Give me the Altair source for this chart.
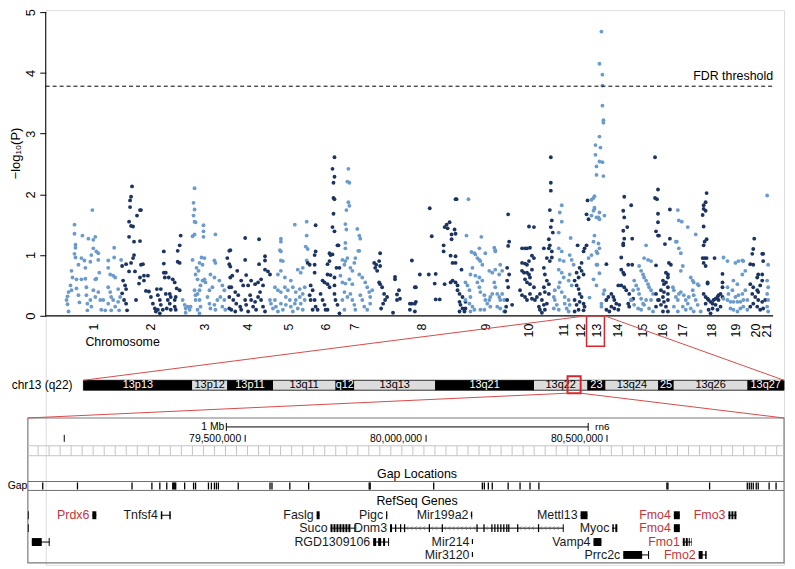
import altair as alt
import pandas as pd

FONT = "Liberation Sans"
LIGHT = "#6b9bcc"
DARK = "#1c3461"
RED = "#d9262c"
GENE_RED_COL = "#c8323a"

# ---------------- Manhattan data: (cumulative position, -log10 P) ----------------
CHR1 = [(47,1.74),(29,1.50),(29,1.35),(37,1.32),(43,1.27),(48,1.25),(50,1.30),(30,1.17),(30,1.12),(48,1.11),(51,1.06),(53,1.03),(69,1.12),(29,1.02),(30,0.96),(36,0.95),(39,0.91),(46,1.0),(45,0.89),(53,0.92),(63,0.91),(69,0.96),(40,0.79),(33,0.84),(26,0.74),(63,0.79),(76,0.92),(27,0.63),(31,0.6),(36,0.6),(40,0.61),(50,0.6),(51,0.61),(54,0.71),(65,0.68),(68,0.66),(70,0.63),(25,0.5),(26,0.42),(23,0.39),(22,0.32),(21,0.26),(22,0.19),(23,0.07),(31,0.45),(33,0.34),(34,0.22),(41,0.47),(41,0.34),(42,0.2),(42,0.09),(53,0.39),(55,0.26),(58,0.26),(56,0.1),(60,0.09),(63,0.47),(65,0.39),(66,0.31),(68,0.26),(70,0.15),(63,0.2),(66,0.09),(73,0.44),(75,0.31),(73,0.23),(74,0.09),(48,0.42),(50,0.31),(45,0.26),(46,0.15)]
CHR2 = [(87,2.13),(86,1.96),(85,1.9),(85,1.79),(95,1.74),(96,1.74),(92,1.65),(84,1.55),(86,1.48),(88,1.47),(84,1.3),(89,1.22),(95,1.23),(89,1.0),(88,0.95),(96,0.84),(98,0.85),(86,0.87),(81,0.85),(77,0.82),(90,0.73),(84,0.73),(95,0.63),(99,0.58),(103,0.66),(94,0.53),(99,0.66),(78,0.58),(80,0.5),(81,0.44),(77,0.37),(79,0.26),(81,0.2),(82,0.09),(91,0.26),(101,0.41),(104,0.4),(106,0.31),(108,0.2),(110,0.12),(111,0.07),(113,0.34),(115,0.26),(116,0.18),(113,0.1),(118,0.1),(115,0.04),(119,1.06),(119,0.86),(119,0.71),(121,0.71),(120,0.63),(124,0.63),(112,0.44),(116,0.44),(121,0.36),(125,0.36),(126,0.31),(130,0.26),(131,0.31),(123,0.26),(125,0.2),(122,0.12),(126,0.1),(130,0.15),(131,0.1),(133,1.07),(135,1.16),(136,1.32),(133,0.89),(135,0.87),(128,0.6),(130,0.55),(132,0.45),(135,0.42)]
CHR3 = [(150,2.1),(149,1.86),(150,1.75),(149,1.65),(150,1.55),(151,1.54),(159,1.49),(159,1.39),(159,1.3),(150,1.34),(148,1.31),(171,1.34),(157,0.96),(160,0.95),(148,0.92),(155,0.87),(158,0.84),(152,0.79),(154,0.74),(170,0.91),(171,0.87),(151,0.68),(153,0.6),(158,0.58),(160,0.6),(161,0.55),(156,0.5),(155,0.42),(153,0.36),(151,0.26),(166,0.68),(170,0.63),(168,0.47),(165,0.42),(163,0.31),(175,0.58),(178,0.5),(180,0.42),(176,0.31),(173,0.26),(138,0.26),(140,0.18),(141,0.12),(143,0.15),(145,0.1),(141,0.05),(146,0.15),(150,0.42),(151,0.34),(155,0.26),(156,0.15),(153,0.1),(155,0.04),(165,0.2),(166,0.12),(170,0.18),(171,0.1),(180,0.26),(178,0.15),(181,0.1)]
CHR4 = [(185,1.07),(183,0.95),(185,0.85),(186,0.63),(185,0.47),(185,0.31),(185,0.12),(186,1.08),(186,0.81),(188,0.66),(201,1.28),(215,1.26),(201,0.92),(193,0.74),(215,0.85),(221,0.98),(221,0.91),(221,0.76),(224,0.73),(226,0.68),(202,0.67),(197,0.58),(199,0.5),(204,0.5),(207,0.58),(211,0.52),(214,0.55),(217,0.6),(219,0.5),(187,0.47),(191,0.39),(194,0.34),(189,0.26),(192,0.2),(196,0.15),(187,0.1),(197,0.1),(201,0.26),(202,0.18),(206,0.34),(207,0.26),(209,0.15),(211,0.23),(212,0.1),(214,0.31),(216,0.39),(217,0.26),(219,0.15),(221,0.07),(204,0.07),(191,0.07)]
CHR5 = [(263,1.55),(251,1.5),(263,1.32),(237,1.27),(237,1.22),(236,1.08),(237,1.06),(237,0.91),(239,0.9),(262,1.14),(264,1.1),(263,0.91),(234,0.68),(237,0.74),(241,0.63),(254,0.76),(257,0.71),(259,0.79),(247,0.58),(249,0.47),(252,0.39),(256,0.44),(259,0.36),(261,0.47),(231,0.47),(234,0.42),(237,0.39),(241,0.47),(242,0.31),(244,0.42),(226,0.26),(227,0.2),(229,0.12),(231,0.26),(232,0.15),(234,0.07),(237,0.2),(239,0.1),(242,0.18),(246,0.26),(247,0.15),(249,0.07),(251,0.2),(252,0.26),(254,0.12),(256,0.31),(257,0.2),(259,0.1),(261,0.26)]
CHR6 = [(291,2.61),(289,2.42),(291,2.29),(290,2.19),(290,1.94),(291,1.92),(290,1.68),(289,1.46),(291,1.39),(294,1.16),(295,1.16),(272,1.49),(272,1.06),(271,1.0),(264,0.87),(266,0.84),(271,0.84),(286,1.03),(287,1.0),(289,1.01),(286,0.9),(284,0.85),(271,0.71),(293,0.79),(296,0.79),(284,0.68),(287,0.67),(291,0.63),(279,0.58),(281,0.55),(284,0.52),(286,0.47),(267,0.5),(269,0.42),(266,0.34),(267,0.26),(271,0.26),(272,0.15),(269,0.1),(274,0.1),(277,0.36),(279,0.26),(281,0.18),(282,0.1),(284,0.1),(291,0.5),(291,0.36),(292,0.26),(294,0.18),(296,0.04)]
CHR7 = [(305,2.42),(304,2.21),(306,2.19),(305,1.87),(306,1.81),(303,1.74),(302,1.51),(303,1.42),(302,1.2),(302,1.11),(314,1.43),(316,1.32),(317,1.27),(315,1.07),(316,1.07),(312,0.95),(311,0.87),(304,0.95),(302,0.9),(299,0.92),(301,0.84),(307,0.79),(309,0.74),(297,0.66),(299,0.55),(302,0.53),(306,0.6),(309,0.52),(316,0.68),(319,0.63),(322,0.55),(324,0.47),(326,0.39),(327,0.31),(329,0.42),(299,0.26),(301,0.1),(309,0.26),(311,0.18),(312,0.1),(317,0.34),(319,0.26),(321,0.15),(324,0.1),(327,0.2),(301,0.39),(304,0.31),(307,0.36)]
CHR8 = [(337,1.03),(331,0.87),(333,0.84),(336,0.9),(337,0.82),(332,0.79),(334,0.74),(336,0.55),(337,0.52),(339,0.47),(341,0.36),(342,0.26),(344,0.31),(340,0.2),(338,0.12),(352,0.64),(352,0.6),(356,0.42),(354,0.35),(354,0.26),(357,0.28),(350,0.05),(369,0.91),(367,0.2),(369,0.2),(367,0.1),(372,0.47),(373,0.47),(373,0.23),(372,0.2),(372,0.07),(377,0.68),(386,0.68),(393,0.69),(387,1.77),(389,1.31),(392,0.53),(393,0.27),(397,0.27),(401,1.16),(401,1.06),(402,1.46),(404,1.5),(407,1.54),(405,1.44),(409,1.34),(412,1.42),(413,1.35),(409,1.26),(413,1.92),(414,1.92),(408,0.99),(413,0.98),(410,0.87),(413,0.87),(402,0.52),(408,0.55),(410,0.58),(413,0.55),(415,0.5),(419,0.76),(415,0.42),(417,0.36),(420,0.31),(417,0.23),(418,0.18),(420,0.12),(417,0.07),(422,0.07),(423,0.12),(423,0.23)]
CHR9 = [(426,1.92),(424,1.32),(439,1.3),(429,1.05),(432,1.03),(433,1.01),(437,1.11),(452,1.12),(453,1.08),(453,1.06),(443,1.03),(435,0.95),(437,0.92),(440,0.84),(438,0.9),(430,0.79),(428,0.68),(433,0.66),(437,0.63),(435,0.55),(440,0.58),(447,0.74),(450,0.71),(453,0.76),(458,0.84),(457,0.68),(460,0.74),(423,0.55),(425,0.5),(427,0.42),(428,0.31),(423,0.26),(427,0.2),(430,0.15),(432,0.1),(428,0.07),(437,0.47),(438,0.39),(442,0.34),(443,0.26),(445,0.2),(447,0.26),(448,0.15),(438,0.1),(442,0.1),(452,0.55),(453,0.47),(455,0.36),(457,0.31),(458,0.26),(460,0.36),(462,0.26),(455,0.15),(458,0.12),(462,0.07),(450,0.36),(448,0.31)]
CHR10 = [(466,1.67),(467,1.22),(466,1.15),(465,0.79),(467,0.68),(465,0.58),(466,0.47),(465,0.26),(464,0.15),(463,0.07),(470,0.18),(487,1.47),(492,1.46),(480,1.11),(483,1.11),(485,1.11),(488,1.12),(490,0.99),(492,0.95),(480,0.87),(483,0.86),(485,0.84),(487,0.9),(480,0.74),(482,0.71),(485,0.71),(487,0.68),(490,0.76),(488,0.63),(483,0.6),(485,0.55),(488,0.52),(492,0.47),(478,0.42),(480,0.34),(483,0.31),(485,0.26),(488,0.36),(490,0.28),(493,0.26),(495,0.31),(498,0.36),(500,0.26),(497,0.15),(498,0.1),(502,0.18),(503,0.1),(505,0.2),(500,0.05),(502,1.11),(507,1.11),(505,0.95),(502,0.79),(503,0.68),(505,0.58),(507,0.52),(502,0.47),(503,0.39),(507,0.36),(509,2.61),(509,2.19),(509,2.06),(508,1.74),(510,1.57),(509,1.46),(511,1.37),(507,1.26),(508,1.16),(510,1.06),(510,0.96),(508,0.9)]
CHR11 = [(520,1.82),(518,1.7),(520,1.55),(517,1.37),(529,1.28),(517,1.11),(520,1.06),(518,0.92),(522,0.9),(517,0.76),(520,0.71),(522,0.63),(518,0.55),(517,0.47),(520,0.39),(523,0.31),(527,0.26),(513,0.42),(512,0.31),(513,0.26),(515,0.18),(512,0.12),(517,0.1),(523,0.2),(525,0.12),(527,0.07),(528,0.18),(528,1.0),(530,0.92),(532,0.84),(528,0.68),(527,0.58),(530,0.5)]
CHR12 = [(536,1.16),(543,1.11),(545,1.16),(542,1.06),(546,1.9),(545,1.67),(547,1.59),(540,0.87),(538,0.79),(535,0.71),(537,0.63),(540,0.74),(542,0.68),(533,0.58),(535,0.5),(537,0.44),(538,0.36),(540,0.31),(533,0.26),(535,0.18),(538,0.23),(542,0.2),(543,0.15),(537,0.1),(542,0.09),(533,0.07)]
CHR13 = [(560,4.68),(558,4.15),(561,3.97),(561,3.79),(561,3.46),(562,3.22),(562,3.18),(558,2.95),(554,2.81),(559,2.77),(554,2.65),(558,2.54),(561,2.53),(555,2.46),(555,2.32),(562,2.3),(553,1.97),(550,1.91),(552,1.94),(553,1.78),(552,1.73),(550,1.65),(555,1.62),(558,1.59),(553,1.32),(552,1.22),(556,1.03),(550,1.0),(555,0.84),(558,1.11),(547,0.95),(557,1.62),(558,1.7),(553,1.76),(557,1.19),(555,1.06),(563,1.65),(563,0.42),(562,0.36),(565,0.26),(560,0.2),(556,0.84),(552,0.6),(555,0.5),(558,0.7),(548,0.3),(560,0.15)]
CHR14 = [(565,0.85),(583,1.96),(590,1.82),(582,1.73),(583,1.62),(582,1.4),(586,1.46),(583,1.27),(582,1.19),(582,1.16),(591,1.27),(580,0.96),(587,0.84),(591,0.84),(580,0.76),(582,0.71),(583,0.68),(580,0.5),(583,0.47),(585,0.42),(577,0.5),(588,0.36),(590,0.26),(592,0.28),(587,0.2),(588,0.15),(565,0.26),(567,0.31),(570,0.36),(572,0.31),(573,0.26),(575,0.2),(570,0.15),(573,0.12),(577,0.1),(568,0.07),(565,0.1),(578,0.18)]
CHR15 = [(605,1.16),(603,0.95),(607,0.92),(610,0.9),(598,0.82),(600,0.74),(602,0.68),(603,0.63),(605,0.58),(607,0.52),(608,0.47),(610,0.42),(593,0.58),(595,0.5),(597,0.44),(598,0.36),(600,0.28),(602,0.2),(592,0.42),(590,0.26),(593,0.18),(597,0.12),(600,0.1),(603,0.18),(605,0.26),(608,0.12),(612,0.07),(610,0.26),(612,0.36)]
CHR16 = [(614,2.61),(617,2.08),(614,1.94),(616,1.92),(617,1.68),(617,1.54),(615,1.39),(617,1.32),(618,1.32),(629,1.75),(629,1.27),(624,1.18),(615,0.83),(628,0.87),(630,0.84),(625,0.71),(627,0.68),(627,0.63),(622,0.58),(623,0.52),(625,0.55),(627,0.47),(620,0.42),(623,0.39),(627,0.36),(622,0.31),(618,0.26),(623,0.23),(627,0.26),(620,0.18),(625,0.15),(622,0.07),(627,0.07),(615,0.36),(617,0.26),(615,0.15)]
CHR17 = [(637,1.74),(638,1.57),(641,1.55),(647,1.46),(635,1.22),(636,1.22),(638,1.11),(640,1.03),(655,1.34),(642,0.82),(640,0.74),(650,0.63),(652,0.58),(653,0.55),(657,0.52),(658,0.5),(632,0.47),(633,0.42),(635,0.31),(637,0.26),(638,0.36),(640,0.39),(643,0.34),(645,0.26),(647,0.2),(648,0.31),(642,0.15),(645,0.1),(633,0.15),(637,0.07),(652,0.42),(653,0.34),(655,0.26),(657,0.18),(650,0.12),(660,0.07),(653,0.07)]
CHR18 = [(666,2.02),(665,1.87),(663,1.82),(663,1.76),(665,1.73),(662,1.66),(663,1.47),(666,1.26),(664,1.22),(663,1.16),(662,0.95),(664,0.95),(666,0.95),(674,0.95),(663,0.87),(665,0.82),(667,0.55),(667,0.53),(682,0.69),(682,0.55),(682,0.47),(663,0.36),(665,0.31),(667,0.28),(668,0.26),(670,0.23),(672,0.2),(673,0.26),(675,0.28),(677,0.31),(678,0.34),(680,0.36),(682,0.31),(675,0.18),(672,0.12),(668,0.1),(677,0.1),(680,0.15),(670,0.04),(665,0.2),(678,0.26)]
CHR19 = [(683,0.96),(687,0.9),(695,0.87),(698,0.9),(702,0.91),(703,0.9),(705,0.74),(702,0.68),(683,0.28),(687,0.26),(690,0.23),(693,0.23),(697,0.23),(700,0.23),(703,0.26),(707,0.26),(688,0.36),(692,0.42),(695,0.31),(698,0.34),(702,0.36),(705,0.42),(690,0.12),(693,0.1),(697,0.07),(700,0.12),(703,0.15),(707,0.1),(693,0.58),(697,0.52),(687,0.47)]
CHR20 = [(714,1.27),(713,1.1),(712,1.02),(722,1.02),(723,1.02),(710,0.85),(713,0.84),(718,0.68),(722,0.68),(717,0.63),(723,0.9),(710,0.52),(713,0.47),(717,0.42),(718,0.39),(720,0.5),(722,0.58),(712,0.36),(715,0.31),(718,0.26),(722,0.23),(713,0.2),(717,0.15),(720,0.1),(723,0.12),(710,0.15),(725,0.26)]
CHR21 = [(727,1.98),(728,0.84),(727,0.58),(728,0.47),(727,0.36),(728,0.26),(727,0.15),(728,0.07)]

CHROMS = [CHR1, CHR2, CHR3, CHR4, CHR5, CHR6, CHR7, CHR8, CHR9, CHR10, CHR11,
          CHR12, CHR13, CHR14, CHR15, CHR16, CHR17, CHR18, CHR19, CHR20, CHR21]
CHR_NAMES = [str(i) for i in range(1, 22)]
CHR_LABEL_POS = [49, 106, 161, 204, 245, 282, 312, 379, 444, 487, 522, 539, 556,
                 577, 602, 622, 642, 671, 696, 716, 727]
FDR = 3.78
Y_TICKS = [0, 1, 2, 3, 4, 5]

# ---------------- chr13 ideogram (Mb) ----------------
BAND_NAMES = ["13p13", "13p12", "13p11", "13q11", "q12", "13q13", "13q21", "13q22",
              "23", "13q24", "25", "13q26", "13q27"]
BAND_START = [0, 16.6, 21.9, 28.9, 38.4, 41.3, 53.6, 68.7, 76.8, 79.6, 87.6, 90.0, 101.2]
BAND_END = [16.6, 21.9, 28.9, 38.4, 41.3, 53.6, 68.7, 76.8, 79.6, 87.6, 90.0, 101.2, 106.8]
BAND_DARK = [1, 0, 1, 0, 1, 0, 1, 0, 1, 0, 1, 0, 1]
CHR13_LEN = 106.8
Q22_BOX = (73.8, 75.8)

# ---------------- browser window (Mb) ----------------
WIN = (78.8994, 80.9893)
POS_TICKS = [79.0, 79.5, 80.0, 80.5]
POS_LABELS = ["", "79,500,000", "80,000,000", "80,500,000"]
SCALEBAR = (79.448, 80.448)
GAPS = [78.9405, 79.0365, 79.1873, 79.2422, 79.2641, 79.2833, 79.2998, 79.3025, 79.3053,
        79.3080, 79.3327, 79.3574, 79.3629, 79.3985, 79.4067, 79.4150, 79.4205, 79.4260,
        79.4808, 79.5686, 79.5741, 79.6234, 79.6755, 79.8428, 79.8456, 80.0211, 80.1555,
        80.1610, 80.1720, 80.1829, 80.2268, 80.2597, 80.2872, 80.3118, 80.6656, 80.6684,
        80.7836, 80.8878, 80.8933, 80.8988, 80.9043, 80.9125, 80.9180, 80.9481, 80.9673]

GENE_NAMES = ["Prdx6", "Tnfsf4", "Faslg", "Pigc", "Mir199a2", "Mettl13", "Fmo4", "Fmo3",
              "Suco", "Dnm3", "Myoc", "Fmo4",
              "RGD1309106", "Mir214", "Vamp4", "Fmo1",
              "Mir3120", "Prrc2c", "Fmo2", ""]
GENE_ROW = [1, 1, 1, 1, 1, 1, 1, 1, 2, 2, 2, 2, 3, 3, 3, 3, 4, 4, 4, 3]
GENE_START = [79.0776, 79.2669, 79.6975, 79.8895, 80.1253, 80.4270, 80.6848, 80.8357,
              79.7359, 79.9004, 80.5148, 80.6848,
              79.8538, 80.1281, 80.4627, 80.7095,
              80.1281, 80.5450, 80.7534, 78.9103]
GENE_END = [79.0886, 79.2943, 79.7057, 79.8928, 80.1275, 80.4462, 80.7013, 80.8576,
            79.8044, 80.3804, 80.5285, 80.7013,
            79.8977, 80.1300, 80.4846, 80.7342,
            80.1300, 80.6163, 80.7754, 78.9597]
GENE_IS_RED = [1, 0, 0, 0, 0, 0, 1, 1, 0, 0, 0, 1, 0, 0, 0, 1, 0, 0, 1, 0]

EXON_ROW = [1, 1, 1, 1, 1, 1, 1, 1, 1, 1, 1,
            2, 2, 2, 2, 2, 2, 2, 2,
            2, 2, 2, 2, 2, 2, 2, 2, 2, 2, 2, 2, 2, 2, 2, 2, 2, 2,
            2, 2, 2,
            3, 3, 3, 3, 3, 3, 3, 3, 3, 3, 3,
            4, 4, 4, 4, 1, 2]
EXON_START = [79.0776, 79.2669, 79.2902, 79.6975, 79.8895, 80.4270, 80.6848, 80.8357, 80.8439, 80.8521, 80.1253,
              79.7359, 79.7441, 79.7523, 79.7606, 79.7688, 79.7770, 79.7852, 79.8017,
              79.9004, 79.9141, 79.9279, 79.9388, 80.0074, 80.0431, 80.1391, 80.1583, 80.1802, 80.1884,
              80.1967, 80.2049, 80.2131, 80.2213, 80.2268, 80.2515, 80.3091, 80.3777,
              80.5148, 80.5230, 80.6848,
              78.9103, 78.9570, 79.8538, 79.8675, 79.8812, 79.8950, 80.4627, 80.7095, 80.7178, 80.7260, 80.7328,
              80.5450, 80.6135, 80.7534, 80.7713, 78.8994, 78.8994]
EXON_END = [79.0886, 79.2710, 79.2943, 79.7057, 79.8928, 80.4462, 80.7013, 80.8412, 80.8494, 80.8576, 80.1275,
            79.7414, 79.7496, 79.7578, 79.7661, 79.7743, 79.7825, 79.7907, 79.8044,
            79.9059, 79.9176, 79.9314, 79.9423, 80.0109, 80.0466, 80.1426, 80.1618, 80.1837, 80.1919,
            80.2002, 80.2084, 80.2166, 80.2248, 80.2303, 80.2550, 80.3126, 80.3804,
            80.5189, 80.5285, 80.7013,
            78.9378, 78.9597, 79.8620, 79.8758, 79.8867, 79.8977, 80.4846, 80.7150, 80.7232, 80.7287, 80.7342,
            80.5971, 80.6163, 80.7644, 80.7754, 78.9018, 78.9018]
MIR_ROW = [1, 3, 4]
MIR_POS = [80.1253, 80.1281, 80.1281]
# Dnm3 introns carrying strand chevrons (Mb)
INTRON_S = [79.9059, 79.9423, 80.0109, 80.0466, 80.1618, 80.2550, 80.3126]
INTRON_E = [79.9141, 80.0074, 80.0431, 80.1391, 80.1802, 80.3091, 80.3777]

# ---------------- layout constants (vertical track positions, px from top) ----------------
W, H = 744, 559
TOP, BOTTOM = 8, 567
ROW_Y = {1: 517, 2: 530, 3: 544, 4: 557}
PX_PER_UNIT = 61.2

MX = alt.Scale(domain=[0, 744], zero=False, nice=False)
MY = alt.Scale(domain=[-(BOTTOM - 316) / PX_PER_UNIT, (316 - TOP) / PX_PER_UNIT], zero=False, nice=False)
FY = alt.Scale(domain=[TOP, BOTTOM], zero=False, nice=False, reverse=True)
FX = alt.Scale(domain=[46, 790], zero=False, nice=False)
IX = alt.Scale(domain=[-CHR13_LEN * 38 / 706, CHR13_LEN], zero=False, nice=False)
BX = alt.Scale(domain=[78.94872, 80.98929], zero=False, nice=False)


def X(f, sc):
    return alt.X(f, scale=sc, axis=None)


def Y(f, sc):
    return alt.Y(f, scale=sc, axis=None)


# ================= Manhattan =================
rows = []
for i, pts in enumerate(CHROMS, start=1):
    for x, v in pts:
        rows.append({"mx": x, "logp": v, "col": LIGHT if i % 2 else DARK})
pts_df = pd.DataFrame(rows)

yaxis = alt.Axis(values=Y_TICKS, format="d", title="\u2212log\u2081\u2080(P)", labelAngle=270,
                 labelAlign="center", labelBaseline="bottom", tickSize=6, labelPadding=2,
                 domain=False, grid=False, labelFlush=False, labelOverlap=False,
                 labelFont=FONT, titleFont=FONT, labelFontSize=13, titleFontSize=13,
                 titleFontWeight="normal", labelColor="black", titleColor="black",
                 tickColor="black", orient="left", titleX=-30, titleY=144,
                 titleAngle=270, titleAlign="center", titleBaseline="middle")

points = alt.Chart(pts_df).mark_circle(size=15, opacity=1).encode(
    x=X("mx:Q", MX), y=alt.Y("logp:Q", scale=MY, axis=yaxis),
    color=alt.Color("col:N", scale=None))

fdr_line = alt.Chart(pd.DataFrame({"a": [0], "b": [733], "v": [FDR]})).mark_rule(
    color="black", strokeWidth=1, strokeDash=[4, 3]).encode(
    x=X("a:Q", MX), x2="b:Q", y=Y("v:Q", MY))
fdr_text = alt.Chart(pd.DataFrame({"a": [733], "v": [FDR], "t": ["FDR threshold"]})).mark_text(
    align="right", baseline="bottom", dy=-3, font=FONT, fontSize=12.5, color="black").encode(
    x=X("a:Q", MX), y=Y("v:Q", MY), text="t:N")
x_axis_line = alt.Chart(pd.DataFrame({"a": [0], "b": [733], "v": [0]})).mark_rule(
    color="black", strokeWidth=1.3).encode(x=X("a:Q", MX), x2="b:Q", y=Y("v:Q", MY))
y_axis_line = alt.Chart(pd.DataFrame({"a": [0], "v0": [0], "v1": [5]})).mark_rule(
    color="black", strokeWidth=1).encode(x=X("a:Q", MX), y=Y("v0:Q", MY), y2="v1:Q")
chr_lab = alt.Chart(pd.DataFrame({"p": CHR_LABEL_POS, "t": CHR_NAMES, "v": [-0.13] * 21})).mark_text(
    angle=270, align="right", baseline="middle", font=FONT, fontSize=12.5, color="black").encode(
    x=X("p:Q", MX), y=Y("v:Q", MY), text="t:N")
chr_title = alt.Chart(pd.DataFrame({"p": [40], "v": [-0.44], "t": ["Chromosome"]})).mark_text(
    align="left", baseline="middle", font=FONT, fontSize=12.5, color="black").encode(
    x=X("p:Q", MX), y=Y("v:Q", MY), text="t:N")
box13 = alt.Chart(pd.DataFrame({"a": [545], "b": [563], "v0": [0], "v1": [-0.5]})).mark_rect(
    fillOpacity=0, stroke=RED, strokeWidth=1.5).encode(
    x=X("a:Q", MX), x2="b:Q", y=Y("v0:Q", MY), y2="v1:Q")

manhattan = [points, fdr_line, fdr_text, x_axis_line, y_axis_line, chr_lab, chr_title, box13]

# ================= ideogram =================
bands = pd.DataFrame({"s": BAND_START, "e": BAND_END, "n": BAND_NAMES,
                      "fill": ["black" if d else "#dcdcdc" for d in BAND_DARK],
                      "tc": ["white" if d else "black" for d in BAND_DARK],
                      "y0": [381] * 13, "y1": [391] * 13, "ym": [386] * 13})
bands["m"] = (bands["s"] + bands["e"]) / 2
band_rect = alt.Chart(bands).mark_rect().encode(
    x=X("s:Q", IX), x2="e:Q", y=Y("y0:Q", FY), y2="y1:Q", color=alt.Color("fill:N", scale=None))
band_outline = alt.Chart(pd.DataFrame({"s": [0], "e": [CHR13_LEN], "y0": [381], "y1": [391]})).mark_rect(
    fillOpacity=0, stroke="black", strokeWidth=0.8).encode(
    x=X("s:Q", IX), x2="e:Q", y=Y("y0:Q", FY), y2="y1:Q")
band_text = alt.Chart(bands).mark_text(font=FONT, fontSize=11, baseline="middle", align="center").encode(
    x=X("m:Q", IX), y=Y("ym:Q", FY), text="n:N", color=alt.Color("tc:N", scale=None))
q22_box = alt.Chart(pd.DataFrame({"s": [Q22_BOX[0]], "e": [Q22_BOX[1]], "y0": [377], "y1": [394]})).mark_rect(
    fillOpacity=0, stroke=RED, strokeWidth=2).encode(
    x=X("s:Q", IX), x2="e:Q", y=Y("y0:Q", FY), y2="y1:Q")
ideogram = [band_rect, band_outline, band_text, q22_box]

# ================= browser =================
frame = alt.Chart(pd.DataFrame({"s": [WIN[0]], "e": [WIN[1]], "y0": [419], "y1": [565]})).mark_rect(
    fillOpacity=0, stroke="#7a7a7a", strokeWidth=1.2).encode(
    x=X("s:Q", BX), x2="e:Q", y=Y("y0:Q", FY), y2="y1:Q")
sbar = alt.Chart(pd.DataFrame({"s": [SCALEBAR[0]], "e": [SCALEBAR[1]], "y": [428]})).mark_rule(
    color="black", strokeWidth=1).encode(x=X("s:Q", BX), x2="e:Q", y=Y("y:Q", FY))
caps = alt.Chart(pd.DataFrame({"p": list(SCALEBAR), "y0": [424, 424], "y1": [432, 432]})).mark_rule(
    color="black", strokeWidth=1).encode(x=X("p:Q", BX), y=Y("y0:Q", FY), y2="y1:Q")
sb_text_l = alt.Chart(pd.DataFrame({"p": [SCALEBAR[0]], "y": [428], "t": ["1 Mb"]})).mark_text(
    font=FONT, fontSize=10.5, baseline="middle", align="right", dx=-2).encode(
    x=X("p:Q", BX), y=Y("y:Q", FY), text="t:N")
sb_text_r = alt.Chart(pd.DataFrame({"p": [SCALEBAR[1]], "y": [428.5], "t": ["rn6"]})).mark_text(
    font=FONT, fontSize=10, baseline="middle", align="left", dx=7).encode(
    x=X("p:Q", BX), y=Y("y:Q", FY), text="t:N")
pticks = alt.Chart(pd.DataFrame({"p": POS_TICKS, "y0": [436] * 4, "y1": [443] * 4})).mark_rule(
    color="black", strokeWidth=1).encode(x=X("p:Q", BX), y=Y("y0:Q", FY), y2="y1:Q")
plabels = alt.Chart(pd.DataFrame({"p": POS_TICKS, "y": [440.5] * 4, "t": POS_LABELS})).mark_text(
    font=FONT, fontSize=10.5, baseline="middle", align="right", dx=-4).encode(
    x=X("p:Q", BX), y=Y("y:Q", FY), text="t:N")
grid_pos = []
g = 78.9276
while g < WIN[1]:
    grid_pos.append(round(g, 5))
    g += 0.03047
grid_v = alt.Chart(pd.DataFrame({"p": grid_pos, "y0": [447] * len(grid_pos), "y1": [457] * len(grid_pos)})).mark_rule(
    color="#c4c4c4", strokeWidth=1).encode(x=X("p:Q", BX), y=Y("y0:Q", FY), y2="y1:Q")
grid_h = alt.Chart(pd.DataFrame({"s": [WIN[0]] * 4, "e": [WIN[1]] * 4, "y": [447, 457, 483, 492],
                                 "c": ["#c4c4c4", "#c4c4c4", "#6e6e6e", "#6e6e6e"]})).mark_rule(strokeWidth=1).encode(
    x=X("s:Q", BX), x2="e:Q", y=Y("y:Q", FY), color=alt.Color("c:N", scale=None))
titles = alt.Chart(pd.DataFrame({"p": [79.975, 79.975], "y": [475, 503], "t": ["Gap Locations", "RefSeq Genes"]})).mark_text(
    font=FONT, fontSize=12.5, baseline="middle", align="center").encode(
    x=X("p:Q", BX), y=Y("y:Q", FY), text="t:N")
gaps = alt.Chart(pd.DataFrame({"p": GAPS, "y0": [484] * len(GAPS), "y1": [491] * len(GAPS)})).mark_rule(
    color="black", strokeWidth=1.3).encode(x=X("p:Q", BX), y=Y("y0:Q", FY), y2="y1:Q")

genes = pd.DataFrame({"n": GENE_NAMES, "s": GENE_START, "e": GENE_END,
                      "y": [ROW_Y[r] for r in GENE_ROW],
                      "c": [GENE_RED_COL if r else "#1a1a1a" for r in GENE_IS_RED]})
introns = alt.Chart(genes).mark_rule(color="black", strokeWidth=1).encode(
    x=X("s:Q", BX), x2="e:Q", y=Y("y:Q", FY))
chev = []
for s, e in zip(INTRON_S, INTRON_E):
    p = s + 0.006
    while p < e - 0.004:
        chev.append(round(p, 5))
        p += 0.0115
chevrons = alt.Chart(pd.DataFrame({"p": chev, "y": [ROW_Y[2]] * len(chev)})).mark_point(
    shape="M0.6,-1L-0.6,0L0.6,1", filled=False, size=12, strokeWidth=0.8, color="#555555").encode(
    x=X("p:Q", BX), y=Y("y:Q", FY))
gene_lab = alt.Chart(genes).mark_text(font=FONT, fontSize=12.5, baseline="middle", align="right", dx=-3).encode(
    x=X("s:Q", BX), y=Y("y:Q", FY), text="n:N", color=alt.Color("c:N", scale=None))
exons = pd.DataFrame({"s": EXON_START, "e": EXON_END,
                      "y0": [ROW_Y[r] - 4 for r in EXON_ROW], "y1": [ROW_Y[r] + 4 for r in EXON_ROW]})
exon_rect = alt.Chart(exons).mark_rect(color="black").encode(
    x=X("s:Q", BX), x2="e:Q", y=Y("y0:Q", FY), y2="y1:Q")
mirs = pd.DataFrame({"p": MIR_POS, "y0": [ROW_Y[r] - 3 for r in MIR_ROW], "y1": [ROW_Y[r] + 2 for r in MIR_ROW]})
mir_ticks = alt.Chart(mirs).mark_rule(color="black", strokeWidth=1.2).encode(
    x=X("p:Q", BX), y=Y("y0:Q", FY), y2="y1:Q")

browser = [frame, sbar, caps, sb_text_l, sb_text_r, pticks, plabels, grid_v, grid_h,
           titles, gaps, introns, chevrons, exon_rect, mir_ticks, gene_lab]

# ================= figure-level connectors and side labels =================
conn = alt.Chart(pd.DataFrame({"x0": [591, 609, 572, 585], "y0": [316, 316, 394, 394],
                               "x1": [84, 790, 28, 790], "y1": [381, 381, 419, 419]})).mark_rule(
    color="#d84a4a", strokeWidth=1).encode(x=X("x0:Q", FX), y=Y("y0:Q", FY), x2="x1:Q", y2="y1:Q")
side1 = alt.Chart(pd.DataFrame({"x": [73], "y": [386], "t": ["chr13 (q22)"]})).mark_text(
    font=FONT, fontSize=12, baseline="middle", align="right").encode(
    x=X("x:Q", FX), y=Y("y:Q", FY), text="t:N")
side2 = alt.Chart(pd.DataFrame({"x": [27.5], "y": [488], "t": ["Gap"]})).mark_text(
    font=FONT, fontSize=10.5, baseline="middle", align="right").encode(
    x=X("x:Q", FX), y=Y("y:Q", FY), text="t:N")
figure = [conn, side1, side2]

chart = alt.layer(*(manhattan + ideogram + browser + figure)).resolve_scale(
    x="independent", y="independent").properties(
    width=W, height=H, autosize=alt.AutoSizeParams(type="none"),
    padding={"left": 38, "top": 0, "right": 3, "bottom": 0}
).configure_view(stroke=None).configure(font=FONT)

chart.save("out.html", embed_options={"renderer": "svg", "actions": False})
